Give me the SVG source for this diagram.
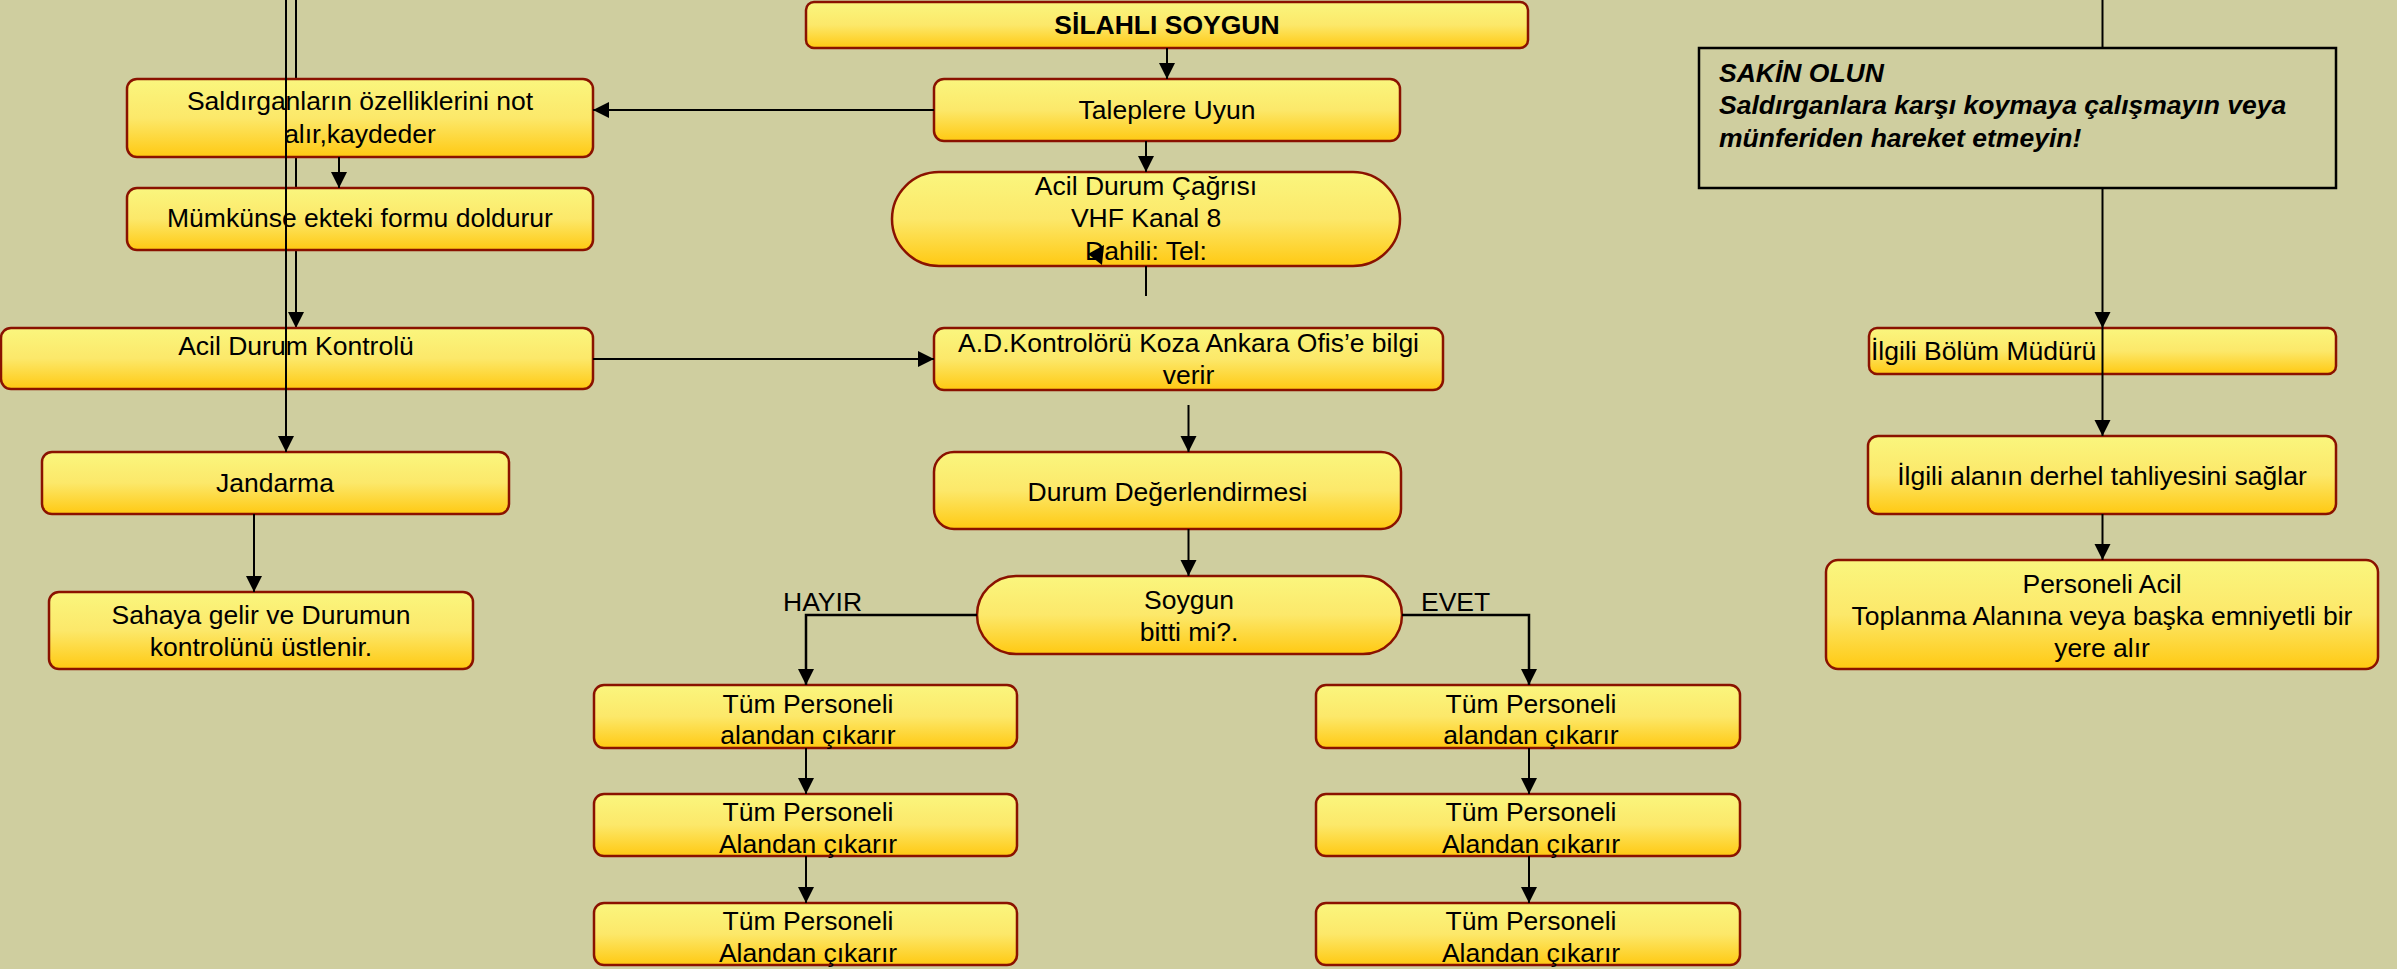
<svg xmlns="http://www.w3.org/2000/svg" width="2397" height="969" viewBox="0 0 2397 969">
<defs>
<linearGradient id="gold" x1="0" y1="0" x2="0" y2="1">
<stop offset="0" stop-color="#FAF67E"/>
<stop offset="0.5" stop-color="#FCE86A"/>
<stop offset="1" stop-color="#FFC912"/>
</linearGradient>
<marker id="arr" markerUnits="userSpaceOnUse" markerWidth="18" markerHeight="18" refX="16" refY="8" orient="auto">
<path d="M0,0 L16,8 L0,16 z" fill="#000"/>
</marker>
<style>
.box{fill:url(#gold);stroke:#8A1200;stroke-width:2.5}
.note{fill:none;stroke:#000;stroke-width:2.5}
.t{font-family:"Liberation Sans",Arial,sans-serif;font-size:26.5px;fill:#000}
.c{text-anchor:middle}
.b{font-weight:bold}
.bi{font-weight:bold;font-style:italic}
.ln{fill:none;stroke:#000;stroke-width:2}
.ar{marker-end:url(#arr)}
</style>
</defs>
<rect x="0" y="0" width="2397" height="969" fill="#CFCE9F"/>

<g id="connectors-behind">
<path class="ln ar" d="M296,0 V328"/>
</g>

<g id="n-silahli"><rect class="box" x="806" y="2" width="722" height="46" rx="8"/><text class="t c b" x="1167" y="34">SİLAHLI SOYGUN</text></g>
<g id="n-taleplere"><rect class="box" x="934" y="79" width="466" height="62" rx="10"/><text class="t c" x="1167" y="119">Taleplere Uyun</text></g>
<g id="n-saldirgan"><rect class="box" x="127" y="79" width="466" height="78" rx="10"/><text class="t c" x="360" y="110">Saldırganların özelliklerini not</text><text class="t c" x="360" y="143">alır,kaydeder</text></g>
<g id="n-mumkunse"><rect class="box" x="127" y="188" width="466" height="62" rx="10"/><text class="t c" x="360" y="227">Mümkünse ekteki formu doldurur</text></g>
<g id="n-acilcagri"><rect class="box" x="892" y="172" width="508" height="94" rx="47"/><text class="t c" x="1146" y="195">Acil Durum Çağrısı</text><text class="t c" x="1146" y="227">VHF Kanal 8</text><text class="t c" x="1146" y="260">Dahili: Tel:</text></g>
<g id="n-acilkontrol"><rect class="box" x="1" y="328" width="592" height="61" rx="10"/><text class="t c" x="296" y="355">Acil Durum Kontrolü</text></g>
<g id="n-adkontrolor"><rect class="box" x="934" y="328" width="509" height="62" rx="10"/><text class="t c" x="1188.5" y="352">A.D.Kontrolörü Koza Ankara Ofis’e bilgi</text><text class="t c" x="1188.5" y="384">verir</text></g>
<g id="n-jandarma"><rect class="box" x="42" y="452" width="467" height="62" rx="10"/><text class="t c" x="275" y="492">Jandarma</text></g>
<g id="n-sahaya"><rect class="box" x="49" y="592" width="424" height="77" rx="10"/><text class="t c" x="261" y="624">Sahaya gelir ve Durumun</text><text class="t c" x="261" y="656">kontrolünü üstlenir.</text></g>
<g id="n-durum"><rect class="box" x="934" y="452" width="467" height="77" rx="20"/><text class="t c" x="1167.5" y="501">Durum Değerlendirmesi</text></g>
<g id="n-soygun"><rect class="box" x="977" y="576" width="425" height="78" rx="39"/><text class="t c" x="1189" y="609">Soygun</text><text class="t c" x="1189" y="641">bitti mi?.</text></g>
<g id="n-l1"><rect class="box" x="594" y="685" width="423" height="63" rx="10"/><text class="t c" x="808" y="713">Tüm Personeli</text><text class="t c" x="808" y="744">alandan çıkarır</text></g>
<g id="n-l2"><rect class="box" x="594" y="794" width="423" height="62" rx="10"/><text class="t c" x="808" y="821">Tüm Personeli</text><text class="t c" x="808" y="853">Alandan çıkarır</text></g>
<g id="n-l3"><rect class="box" x="594" y="903" width="423" height="62" rx="10"/><text class="t c" x="808" y="930">Tüm Personeli</text><text class="t c" x="808" y="962">Alandan çıkarır</text></g>
<g id="n-r1"><rect class="box" x="1316" y="685" width="424" height="63" rx="10"/><text class="t c" x="1531" y="713">Tüm Personeli</text><text class="t c" x="1531" y="744">alandan çıkarır</text></g>
<g id="n-r2"><rect class="box" x="1316" y="794" width="424" height="62" rx="10"/><text class="t c" x="1531" y="821">Tüm Personeli</text><text class="t c" x="1531" y="853">Alandan çıkarır</text></g>
<g id="n-r3"><rect class="box" x="1316" y="903" width="424" height="62" rx="10"/><text class="t c" x="1531" y="930">Tüm Personeli</text><text class="t c" x="1531" y="962">Alandan çıkarır</text></g>
<g id="n-sakin"><rect class="note" x="1699" y="48" width="637" height="140"/><text class="t bi" x="1719" y="82">SAKİN OLUN</text><text class="t bi" x="1719" y="114">Saldırganlara karşı koymaya çalışmayın veya</text><text class="t bi" x="1719" y="147">münferiden hareket etmeyin!</text></g>
<g id="n-ilgilibolum"><rect class="box" x="1869" y="328" width="467" height="46" rx="8"/><text class="t" x="1871" y="360">İlgili Bölüm Müdürü</text></g>
<g id="n-ilgilialan"><rect class="box" x="1868" y="436" width="468" height="78" rx="10"/><text class="t c" x="2102" y="485">İlgili alanın derhel tahliyesini sağlar</text></g>
<g id="n-personeliacil"><rect class="box" x="1826" y="560" width="552" height="109" rx="12"/><text class="t c" x="2102" y="593">Personeli Acil</text><text class="t c" x="2102" y="625">Toplanma Alanına veya başka emniyetli bir</text><text class="t c" x="2102" y="657">yere alır</text></g>

<g id="connectors">
<path class="ln ar" d="M1167,48 V79"/>
<path class="ln ar" d="M934,110 H593"/>
<path class="ln ar" d="M339,157 V188"/>
<path class="ln ar" d="M1146,141 V172"/>
<path class="ln" d="M1146,266 V296"/>
<polygon points="1088,254 1104,245 1102,265" fill="#000"/>
<path class="ln ar" d="M593,359 H934"/>
<path class="ln ar" d="M1188.5,405 V452"/>
<path class="ln ar" d="M1188.5,529 V576"/>
<path class="ln ar" d="M977,615 H806 V685" style="stroke-width:2.5"/>
<path class="ln ar" d="M1402,615 H1529 V685" style="stroke-width:2.5"/>
<path class="ln ar" d="M806,748 V794"/>
<path class="ln ar" d="M806,856 V903"/>
<path class="ln ar" d="M1529,748 V794"/>
<path class="ln ar" d="M1529,856 V903"/>
<path class="ln ar" d="M286,0 V452"/>
<path class="ln ar" d="M254,514 V592"/>
<path class="ln" d="M2102.5,0 V48"/>
<path class="ln ar" d="M2102.5,188 V328"/>
<path class="ln ar" d="M2102.5,328 V436"/>
<path class="ln ar" d="M2102.5,514 V560"/>
</g>
<g id="labels">
<text class="t" x="783" y="611">HAYIR</text>
<text class="t" x="1421" y="611">EVET</text>
</g>
</svg>
